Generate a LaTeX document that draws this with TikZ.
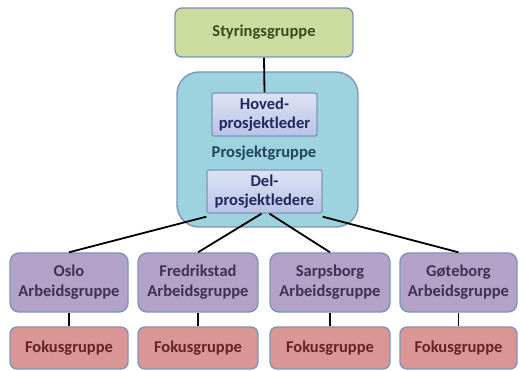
\documentclass[tikz,border=0pt]{standalone}
\usepackage{fontspec}
\setmainfont{Carlito}
\definecolor{bordc}{HTML}{7F95B8}
\definecolor{greenf}{HTML}{CCDC9E}
\definecolor{greent}{HTML}{3A4A1F}
\definecolor{aquaf}{HTML}{9DD2DF}
\definecolor{aquat}{HTML}{21465A}
\definecolor{leadtop}{HTML}{DDE2F4}
\definecolor{leadbot}{HTML}{B9C3E6}
\definecolor{leadt}{HTML}{1F2A5A}
\definecolor{purpf}{HTML}{B3A2C7}
\definecolor{purpt}{HTML}{3F3151}
\definecolor{redf}{HTML}{D99694}
\definecolor{redt}{HTML}{632523}
\tikzset{
  box/.style={draw=bordc, line width=1.4pt, align=center, inner sep=0pt,
    font=\fontsize{16.5}{20}\selectfont\bfseries},
  styrbox/.style={box, fill=greenf, text=greent, rounded corners=7pt,
    minimum width=178pt, minimum height=49pt},
  projbox/.style={box, fill=aquaf, rounded corners=22pt,
    minimum width=181pt, minimum height=155pt},
  leadbox/.style={box, top color=leadtop, bottom color=leadbot, text=leadt,
    rounded corners=1.5pt, minimum height=43pt, font=\fontsize{16.5}{19}\selectfont\bfseries},
  arbbox/.style={box, fill=purpf, text=purpt, rounded corners=9pt,
    minimum width=118pt, minimum height=59pt},
  fokbox/.style={box, fill=redf, text=redt, rounded corners=7pt,
    minimum width=118pt, minimum height=42pt},
  conn/.style={line width=1.8pt, black}
}
\begin{document}
\begin{tikzpicture}[x=1pt,y=-1pt]
\useasboundingbox (0,0) rectangle (520,371);
\node[projbox] (proj) at (267.5,149.5) {};
\node[styrbox] (styr) at (264,32.5) {Styringsgruppe};
\node[leadbox, minimum width=105pt] (hoved) at (264.5,114.5) {Hoved-\\prosjektleder};
\node[leadbox, minimum width=115pt] (del) at (264.5,191.5) {Del-\\prosjektledere};
\node[font=\fontsize{16.5}{20}\selectfont\bfseries, text=aquat] (projlabel) at (264,153) {Prosjektgruppe};

\node[arbbox] (oslo) at (69,282.5) {Oslo\\Arbeidsgruppe};
\node[arbbox, minimum width=120pt] (fred) at (198,282.5) {Fredrikstad\\Arbeidsgruppe};
\node[arbbox, minimum width=120pt] (sarp) at (330,282.5) {Sarpsborg\\Arbeidsgruppe};
\node[arbbox, minimum width=117pt] (gote) at (458.5,282.5) {Gøteborg\\Arbeidsgruppe};

\node[fokbox] (fok1) at (69,348) {Fokusgruppe};
\node[fokbox, minimum width=120pt] (fok2) at (198,348) {Fokusgruppe};
\node[fokbox, minimum width=120pt] (fok3) at (330,348) {Fokusgruppe};
\node[fokbox, minimum width=117pt] (fok4) at (458.5,348) {Fokusgruppe};

\draw[conn] (styr.south) -- (hoved.north);
\draw[conn] (oslo.north) -- ([yshift=-3pt]del.south west);
\draw[conn] (fred.north) -- ([xshift=-3pt]del.south);
\draw[conn] (sarp.north) -- ([xshift=5pt]del.south);
\draw[conn] (gote.north) -- ([yshift=-3pt]del.south east);
\draw[conn] (oslo.south) -- (fok1.north);
\draw[conn] (fred.south) -- (fok2.north);
\draw[conn] (sarp.south) -- (fok3.north);
\draw[conn] (gote.south) -- (fok4.north);
\end{tikzpicture}
\end{document}
